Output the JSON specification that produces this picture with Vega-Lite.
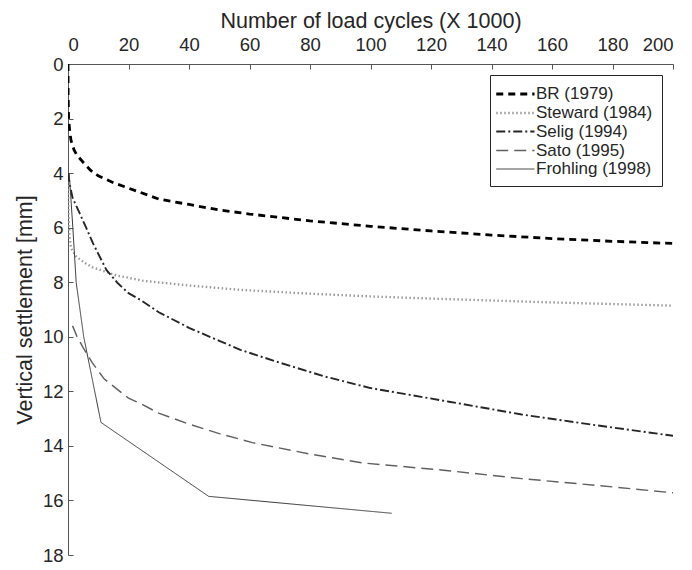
{
  "$schema": "https://vega.github.io/schema/vega-lite/v6.json",
  "autosize": "none",
  "width": 605,
  "height": 491,
  "padding": {"left": 68, "top": 64, "right": 19, "bottom": 15},
  "background": "white",
  "config": {
    "view": {"stroke": null},
    "font": "Liberation Sans",
    "axis": {
      "grid": false,
      "labelFont": "Liberation Sans",
      "labelFontSize": 18.5,
      "labelColor": "#262626",
      "titleFont": "Liberation Sans",
      "titleFontSize": 21.5,
      "titleFontWeight": "normal",
      "titleColor": "#262626",
      "domainColor": "#555555",
      "tickColor": "#555555",
      "tickSize": -5
    },
    "legend": {
      "labelFont": "Liberation Sans",
      "labelFontSize": 17,
      "labelColor": "#262626"
    }
  },
  "data": {
    "values": [
      {"study": "BR (1979)", "N": 0, "S": 0},
      {"study": "BR (1979)", "N": 0.05, "S": 1.2},
      {"study": "BR (1979)", "N": 0.2, "S": 2.0},
      {"study": "BR (1979)", "N": 0.6, "S": 2.5},
      {"study": "BR (1979)", "N": 1, "S": 2.8},
      {"study": "BR (1979)", "N": 2, "S": 3.15},
      {"study": "BR (1979)", "N": 3, "S": 3.35},
      {"study": "BR (1979)", "N": 5, "S": 3.6},
      {"study": "BR (1979)", "N": 7.5, "S": 3.9},
      {"study": "BR (1979)", "N": 10, "S": 4.1},
      {"study": "BR (1979)", "N": 15, "S": 4.35},
      {"study": "BR (1979)", "N": 20, "S": 4.55},
      {"study": "BR (1979)", "N": 30, "S": 4.95},
      {"study": "BR (1979)", "N": 40, "S": 5.15},
      {"study": "BR (1979)", "N": 50, "S": 5.35},
      {"study": "BR (1979)", "N": 60, "S": 5.5},
      {"study": "BR (1979)", "N": 80, "S": 5.75},
      {"study": "BR (1979)", "N": 100, "S": 5.95},
      {"study": "BR (1979)", "N": 120, "S": 6.12},
      {"study": "BR (1979)", "N": 140, "S": 6.27},
      {"study": "BR (1979)", "N": 160, "S": 6.4},
      {"study": "BR (1979)", "N": 180, "S": 6.5},
      {"study": "BR (1979)", "N": 200, "S": 6.58},

      {"study": "Steward (1984)", "N": 0, "S": 4.0},
      {"study": "Steward (1984)", "N": 0.2, "S": 5.6},
      {"study": "Steward (1984)", "N": 0.5, "S": 6.3},
      {"study": "Steward (1984)", "N": 1, "S": 6.75},
      {"study": "Steward (1984)", "N": 2.7, "S": 7.06},
      {"study": "Steward (1984)", "N": 5, "S": 7.25},
      {"study": "Steward (1984)", "N": 8, "S": 7.45},
      {"study": "Steward (1984)", "N": 12, "S": 7.6},
      {"study": "Steward (1984)", "N": 16, "S": 7.75},
      {"study": "Steward (1984)", "N": 25, "S": 7.95},
      {"study": "Steward (1984)", "N": 40, "S": 8.12},
      {"study": "Steward (1984)", "N": 57, "S": 8.28},
      {"study": "Steward (1984)", "N": 80, "S": 8.42},
      {"study": "Steward (1984)", "N": 100, "S": 8.52},
      {"study": "Steward (1984)", "N": 120, "S": 8.6},
      {"study": "Steward (1984)", "N": 140, "S": 8.67},
      {"study": "Steward (1984)", "N": 160, "S": 8.74},
      {"study": "Steward (1984)", "N": 180, "S": 8.8},
      {"study": "Steward (1984)", "N": 200, "S": 8.86},

      {"study": "Selig (1994)", "N": 0, "S": 4.0},
      {"study": "Selig (1994)", "N": 0.5, "S": 4.37},
      {"study": "Selig (1994)", "N": 1.5, "S": 4.9},
      {"study": "Selig (1994)", "N": 3.8, "S": 5.46},
      {"study": "Selig (1994)", "N": 6, "S": 6.0},
      {"study": "Selig (1994)", "N": 8.2, "S": 6.56},
      {"study": "Selig (1994)", "N": 12.7, "S": 7.55},
      {"study": "Selig (1994)", "N": 16.4, "S": 8.03},
      {"study": "Selig (1994)", "N": 20, "S": 8.4},
      {"study": "Selig (1994)", "N": 24, "S": 8.65},
      {"study": "Selig (1994)", "N": 30, "S": 9.1},
      {"study": "Selig (1994)", "N": 40, "S": 9.67},
      {"study": "Selig (1994)", "N": 50, "S": 10.15},
      {"study": "Selig (1994)", "N": 57, "S": 10.48},
      {"study": "Selig (1994)", "N": 70, "S": 10.95},
      {"study": "Selig (1994)", "N": 85, "S": 11.46},
      {"study": "Selig (1994)", "N": 100, "S": 11.88},
      {"study": "Selig (1994)", "N": 126, "S": 12.38},
      {"study": "Selig (1994)", "N": 150, "S": 12.85},
      {"study": "Selig (1994)", "N": 175, "S": 13.25},
      {"study": "Selig (1994)", "N": 200, "S": 13.63},

      {"study": "Sato (1995)", "N": 1.5, "S": 9.6},
      {"study": "Sato (1995)", "N": 3, "S": 10.0},
      {"study": "Sato (1995)", "N": 5, "S": 10.4},
      {"study": "Sato (1995)", "N": 8, "S": 10.95},
      {"study": "Sato (1995)", "N": 12, "S": 11.55},
      {"study": "Sato (1995)", "N": 16, "S": 11.9},
      {"study": "Sato (1995)", "N": 20, "S": 12.25},
      {"study": "Sato (1995)", "N": 24, "S": 12.45},
      {"study": "Sato (1995)", "N": 30, "S": 12.8},
      {"study": "Sato (1995)", "N": 40, "S": 13.2},
      {"study": "Sato (1995)", "N": 50, "S": 13.55},
      {"study": "Sato (1995)", "N": 61, "S": 13.88},
      {"study": "Sato (1995)", "N": 80, "S": 14.3},
      {"study": "Sato (1995)", "N": 97, "S": 14.62},
      {"study": "Sato (1995)", "N": 125, "S": 14.9},
      {"study": "Sato (1995)", "N": 150, "S": 15.2},
      {"study": "Sato (1995)", "N": 175, "S": 15.45},
      {"study": "Sato (1995)", "N": 200, "S": 15.72},

      {"study": "Frohling (1998)", "N": 0.4, "S": 4.0},
      {"study": "Frohling (1998)", "N": 1.6, "S": 6.0},
      {"study": "Frohling (1998)", "N": 2.7, "S": 8.0},
      {"study": "Frohling (1998)", "N": 5.2, "S": 10.0},
      {"study": "Frohling (1998)", "N": 10.9, "S": 13.14},
      {"study": "Frohling (1998)", "N": 46.5, "S": 15.85},
      {"study": "Frohling (1998)", "N": 107, "S": 16.47}
    ]
  },
  "mark": {"type": "line", "clip": true},
  "encoding": {
    "x": {
      "field": "N",
      "type": "quantitative",
      "scale": {"domain": [0, 200], "nice": false},
      "axis": {
        "orient": "top",
        "title": "Number of load cycles (X 1000)",
        "values": [0, 20, 40, 60, 80, 100, 120, 140, 160, 180, 200],
        "labelPadding": 15,
        "titlePadding": 3
      }
    },
    "y": {
      "field": "S",
      "type": "quantitative",
      "scale": {"domain": [0, 18], "reverse": true, "nice": false},
      "axis": {
        "title": "Vertical settlement [mm]",
        "values": [0, 2, 4, 6, 8, 10, 12, 14, 16, 18],
        "labelPadding": 10,
        "titlePadding": 6
      }
    },
    "order": {"field": "N", "type": "quantitative"},
    "color": {
      "field": "study",
      "type": "nominal",
      "scale": {
        "domain": ["BR (1979)", "Steward (1984)", "Selig (1994)", "Sato (1995)", "Frohling (1998)"],
        "range": ["#000000", "#999999", "#262626", "#606060", "#383838"]
      },
      "legend": {
        "title": null,
        "orient": "none",
        "legendX": 422,
        "legendY": 11,
        "symbolType": "M-1.5,0H3",
        "symbolSize": 289,
        "labelOffset": 17,
        "rowPadding": 1,
        "padding": 9,
        "strokeColor": "#262626",
        "fillColor": "white"
      }
    },
    "strokeDash": {
      "field": "study",
      "type": "nominal",
      "scale": {
        "domain": ["BR (1979)", "Steward (1984)", "Selig (1994)", "Sato (1995)", "Frohling (1998)"],
        "range": [[7, 5], [1.5, 2.5], [9, 3, 2, 3], [12, 6], [1, 0]]
      },
      "legend": null
    },
    "strokeWidth": {
      "field": "study",
      "type": "nominal",
      "scale": {
        "domain": ["BR (1979)", "Steward (1984)", "Selig (1994)", "Sato (1995)", "Frohling (1998)"],
        "range": [2.8, 1, 1, 1.3, 1.2]
      },
      "legend": null
    }
  }
}
